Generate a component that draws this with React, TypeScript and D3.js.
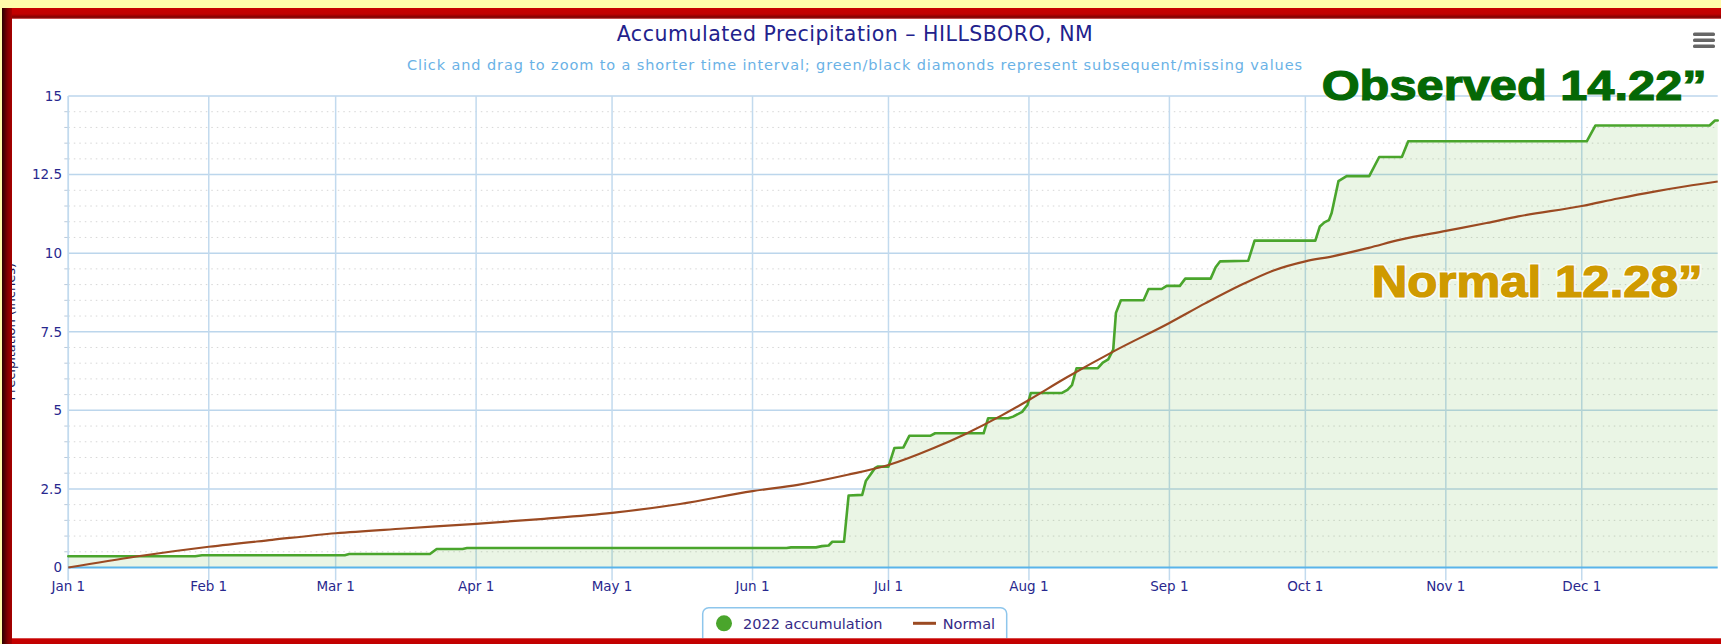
import * as d3 from "d3";

const YEAR = 2022;

// x axis month starts
const monthLabels = ["Jan 1", "Feb 1", "Mar 1", "Apr 1", "May 1", "Jun 1", "Jul 1", "Aug 1", "Sep 1", "Oct 1", "Nov 1", "Dec 1"];
const yTicks = [0, 2.5, 5, 7.5, 10, 12.5, 15];
const yTickLabels = ["0", "2.5", "5", "7.5", "10", "12.5", "15"];

// 2022 accumulation, day offset from Jan 1 -> inches
const observedDays = [0, 28, 29.5, 61, 62, 79.8, 81.3, 87, 88, 158.5, 159.5, 165, 166.3, 167.8, 168.6, 171.2, 172.2, 175.2, 176, 177, 178, 178.6, 181, 182.3, 184.3, 185.6, 190.2, 191.3, 202, 203, 207.4, 208.5, 210.5, 211.7, 212.4, 219.2, 220.5, 221.5, 222.5, 227.2, 228.3, 229.5, 230.6, 231.2, 232.3, 237.3, 238.4, 241.3, 242.4, 245.3, 246.5, 252.1, 253.2, 254.2, 260.4, 261.8, 275.2, 276.2, 277.2, 278.2, 278.8, 280.3, 282.1, 287.1, 289.3, 294.3, 295.7, 335.1, 337, 362.2, 363.4, 364];
const observedInches = [0.36, 0.36, 0.39, 0.39, 0.43, 0.43, 0.59, 0.59, 0.62, 0.62, 0.64, 0.64, 0.68, 0.7, 0.82, 0.82, 2.29, 2.31, 2.75, 2.95, 3.16, 3.21, 3.21, 3.8, 3.82, 4.19, 4.19, 4.27, 4.27, 4.75, 4.75, 4.8, 4.95, 5.18, 5.55, 5.55, 5.65, 5.8, 6.34, 6.34, 6.52, 6.62, 6.93, 8.1, 8.5, 8.5, 8.86, 8.86, 8.96, 8.96, 9.19, 9.19, 9.55, 9.74, 9.76, 10.4, 10.4, 10.85, 10.98, 11.05, 11.28, 12.29, 12.45, 12.45, 13.06, 13.06, 13.56, 13.56, 14.06, 14.06, 14.22, 14.22];

// normal accumulation
const normalDays = [0, 15, 31, 45, 59, 74, 90, 105, 120, 135, 151, 161, 172, 181, 191, 198, 206, 212, 220, 231, 243, 251, 259, 266, 273, 279, 287, 294, 304, 313, 320, 334, 342, 350, 357, 364];
const normalInches = [0, 0.35, 0.66, 0.88, 1.09, 1.24, 1.39, 1.55, 1.74, 2.02, 2.43, 2.63, 2.95, 3.26, 3.8, 4.25, 4.84, 5.33, 6.02, 6.9, 7.78, 8.41, 9.0, 9.45, 9.74, 9.9, 10.17, 10.43, 10.71, 10.96, 11.17, 11.5, 11.74, 11.96, 12.13, 12.28];

const W = 1721;
const H = 644;
const plot = { left: 68.3, right: 1717.7, top: 96, bottom: 567.5 };

type Pt = { date: Date; v: number };

const dayToDate = (d: number) => new Date(Date.UTC(YEAR, 0, 1) + d * 864e5);

const navy = "#28288e";
const font = "'DejaVu Sans', Verdana, sans-serif";

export default function App() {
    const x = d3.scaleUtc().domain([dayToDate(0), dayToDate(364)]).range([plot.left, plot.right]);
    const y = d3.scaleLinear().domain([0, 15]).range([plot.bottom, plot.top]);

    const observed: Pt[] = observedDays.map((d, i) => ({ date: dayToDate(d), v: observedInches[i] }));
    const normal: Pt[] = normalDays.map((d, i) => ({ date: dayToDate(d), v: normalInches[i] }));

    const obsLine = d3.line<Pt>().x(p => x(p.date)).y(p => y(p.v));
    const obsArea = d3.area<Pt>().x(p => x(p.date)).y0(y(0)).y1(p => y(p.v));
    const normLine = d3.line<Pt>().x(p => x(p.date)).y(p => y(p.v)).curve(d3.curveMonotoneX);

    const months = monthLabels.map((label, i) => ({ label, date: new Date(Date.UTC(YEAR, i, 1)) }));
    const minor = d3.range(0.5, 15, 0.5).filter(v => v % 2.5 !== 0);

    return (
        <div style={{ position: "absolute", left: 0, top: 0 }}>
            <svg width={W} height={H} style={{ display: "block" }}>
                <defs>
                    <linearGradient id="topBand" x1="0" y1="0" x2="0" y2="1">
                        <stop offset="0" stopColor="#c80000" />
                        <stop offset="0.55" stopColor="#c00000" />
                        <stop offset="0.85" stopColor="#7d0000" />
                        <stop offset="1" stopColor="#e07070" />
                    </linearGradient>
                    <linearGradient id="leftBand" x1="0" y1="0" x2="1" y2="0">
                        <stop offset="0" stopColor="#2a0000" />
                        <stop offset="0.3" stopColor="#5a0000" />
                        <stop offset="0.6" stopColor="#860000" />
                        <stop offset="1" stopColor="#a80000" />
                    </linearGradient>
                    <linearGradient id="bottomBand" x1="0" y1="0" x2="0" y2="1">
                        <stop offset="0" stopColor="#e08080" />
                        <stop offset="0.2" stopColor="#c80000" />
                        <stop offset="1" stopColor="#c00000" />
                    </linearGradient>
                </defs>

                <rect x={0} y={0} width={W} height={H} fill="#fffbaa" />
                <rect x={12} y={19} width={W - 12} height={619} fill="#ffffff" />

                {/* minor dotted grid */}
                {minor.map(v => (
                    <g key={"m" + v}>
                        <line x1={plot.left} x2={plot.right} y1={y(v)} y2={y(v)} stroke="#d6d6d6" strokeWidth={1} strokeDasharray="1.5,4" />
                        <line x1={plot.left - 4} x2={plot.left} y1={y(v)} y2={y(v)} stroke="#b9c9da" strokeWidth={1} />
                    </g>
                ))}

                {/* major horizontal grid */}
                {yTicks.filter(v => v > 0).map(v => (
                    <line key={"h" + v} x1={plot.left} x2={plot.right} y1={y(v)} y2={y(v)} stroke="#bcd6ec" strokeWidth={1.5} />
                ))}

                {/* vertical month grid + ticks */}
                {months.map(m => (
                    <line key={m.label} x1={x(m.date)} x2={x(m.date)} y1={plot.top} y2={plot.bottom + 13} stroke="#c2daee" strokeWidth={1.5} />
                ))}

                <line x1={plot.left} x2={plot.left} y1={plot.top} y2={plot.bottom + 13} stroke="#c2daee" strokeWidth={1.5} />

                {/* observed fill */}
                <path d={obsArea(observed) || ""} fill="rgba(80,170,40,0.12)" />

                {/* x axis line */}
                <line x1={plot.left} x2={plot.right} y1={plot.bottom} y2={plot.bottom} stroke="#5ab4ea" strokeWidth={2} />

                <path d={obsLine(observed) || ""} fill="none" stroke="#4aa52c" strokeWidth={2.6} strokeLinejoin="round" strokeLinecap="round" />
                <path d={normLine(normal) || ""} fill="none" stroke="#9b4a22" strokeWidth={2.2} />

                {/* axis labels */}
                {yTicks.map((v, i) => (
                    <text key={"yl" + v} x={62} y={y(v) + 4.8} textAnchor="end" fontFamily={font} fontSize={13.5} fill={navy}>
                        {yTickLabels[i]}
                    </text>
                ))}
                {months.map(m => (
                    <text key={"xl" + m.label} x={x(m.date)} y={591} textAnchor="middle" fontFamily={font} fontSize={13.5} fill={navy}>
                        {m.label}
                    </text>
                ))}

                <text transform={`translate(15,${(plot.top + plot.bottom) / 2}) rotate(-90)`} textAnchor="middle" fontFamily={font} fontSize={13} fill="#1a1a5a">
                    Precipitation (inches)
                </text>

                {/* titles */}
                <text x={854.7} y={41} textAnchor="middle" fontFamily={font} fontSize={20.5} fill="#22228c" textLength={476}>
                    Accumulated Precipitation – HILLSBORO, NM
                </text>
                <text x={854.5} y={70} textAnchor="middle" fontFamily={font} fontSize={14.5} fill="#6ab2e6" textLength={895}>
                    Click and drag to zoom to a shorter time interval; green/black diamonds represent subsequent/missing values
                </text>

                {/* menu icon */}
                {[32.5, 38.5, 44.5].map(yy => (
                    <rect key={"mb" + yy} x={1693} y={yy} width={22} height={3.4} rx={1.5} fill="#666666" />
                ))}

                {/* annotations */}
                <text x={1321.7} y={100} fontFamily="'Liberation Sans', Arial, sans-serif" fontWeight="bold" fontSize={42} fill="#056805" stroke="#056805" strokeWidth={1.2} textLength={385} lengthAdjust="spacingAndGlyphs">
                    Observed 14.22”
                </text>
                <text x={1371.7} y={297} fontFamily="'Liberation Sans', Arial, sans-serif" fontWeight="bold" fontSize={44} fill="#cf9a00" stroke="#ffffff" strokeWidth={4} strokeOpacity={0.8} style={{ paintOrder: "stroke" }} textLength={331} lengthAdjust="spacingAndGlyphs">
                    Normal 12.28”
                </text>
                <text x={1371.7} y={297} fontFamily="'Liberation Sans', Arial, sans-serif" fontWeight="bold" fontSize={44} fill="#cf9a00" stroke="#cf9a00" strokeWidth={1.2} textLength={331} lengthAdjust="spacingAndGlyphs">
                    Normal 12.28”
                </text>

                {/* legend */}
                <rect x={702.7} y={607.7} width={304} height={40} rx={6} fill="#ffffff" stroke="#8ec6ec" strokeWidth={1.5} />
                <circle cx={724} cy={623.3} r={8} fill="#4aa52c" />
                <text x={743} y={628.5} fontFamily={font} fontSize={14.5} fill="#352a86">
                    2022 accumulation
                </text>
                <line x1={913} x2={936} y1={623.3} y2={623.3} stroke="#9b4a22" strokeWidth={3} />
                <text x={942.7} y={628.5} fontFamily={font} fontSize={14.5} fill="#352a86">
                    Normal
                </text>

                {/* red frame */}
                <rect x={2} y={8} width={W - 2} height={11} fill="url(#topBand)" />
                <rect x={2} y={638} width={W - 2} height={6} fill="url(#bottomBand)" />
                <rect x={2} y={8} width={10} height={636} fill="url(#leftBand)" />
            </svg>
        </div>
    );
}
